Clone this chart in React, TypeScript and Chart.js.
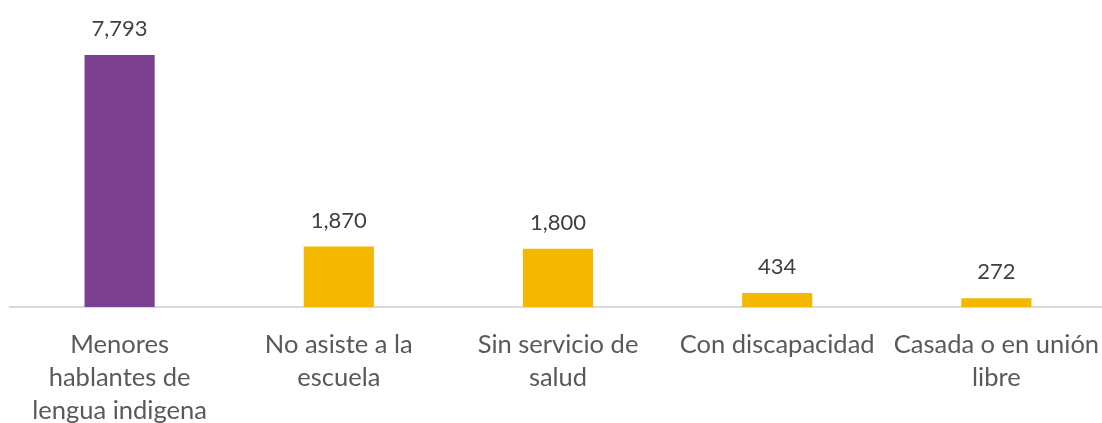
import React, { useEffect, useRef } from "react";
import { Chart, registerables } from "chart.js";

Chart.register(...registerables);

const categories: string[][] = [
  ["Menores", "hablantes de", "lengua indigena"],
  ["No asiste a la", "escuela"],
  ["Sin servicio de", "salud"],
  ["Con discapacidad"],
  ["Casada o en unión", "libre"],
];
const values: number[] = [7793, 1870, 1800, 434, 272];
const barColors: string[] = ["#7B4190", "#F5B800", "#F5B800", "#F5B800", "#F5B800"];

const dataLabels = {
  id: "dataLabels",
  afterDatasetsDraw(chart: any) {
    const ctx = chart.ctx;
    const meta = chart.getDatasetMeta(0);
    ctx.save();
    ctx.font = "22px Lato";
    ctx.fillStyle = "#404040";
    ctx.textAlign = "center";
    ctx.textBaseline = "middle";
    meta.data.forEach((el: any, i: number) => {
      const v = chart.data.datasets[0].data[i] as number;
      ctx.fillText(v.toLocaleString("en-US"), el.x, el.y - 26);
    });
    ctx.restore();
  },
};

export default function App() {
  const ref = useRef<HTMLCanvasElement>(null);
  useEffect(() => {
    if (!ref.current) return;
    const chart = new Chart(ref.current, {
      type: "bar",
      data: {
        labels: categories,
        datasets: [
          {
            data: values,
            backgroundColor: barColors,
            barPercentage: 0.32,
            categoryPercentage: 1,
          },
        ],
      },
      options: {
        animation: false,
        responsive: false,
        maintainAspectRatio: false,
        layout: { padding: { top: 20, left: 10, right: 0, bottom: 0 } },
        plugins: { legend: { display: false }, tooltip: { enabled: false } },
        scales: {
          x: {
            grid: { display: false, drawTicks: false },
            border: { display: true, color: "#D9D9D9", width: 2 },
            ticks: {
              autoSkip: false,
              maxRotation: 0,
              minRotation: 0,
              padding: 21,
              color: "#595959",
              font: { family: "Lato", size: 25.5, lineHeight: 1.3 },
            },
            afterFit: (scale: any) => {
              scale.height = 116;
              scale.paddingLeft = 0;
              scale.paddingRight = 0;
            },
          },
          y: {
            display: false,
            min: 0,
            max: 8875,
          },
        },
      },
      plugins: [dataLabels],
    });
    return () => chart.destroy();
  }, []);
  return (
    <div style={{ width: 1102, height: 423, overflow: "hidden", position: "relative", background: "#fff" }}>
      <style>{`html,body{margin:0;padding:0;overflow:hidden;background:#fff}`}</style>
      <canvas ref={ref} width={1106} height={423} style={{ display: "block", width: 1106, height: 423 }} />
    </div>
  );
}
